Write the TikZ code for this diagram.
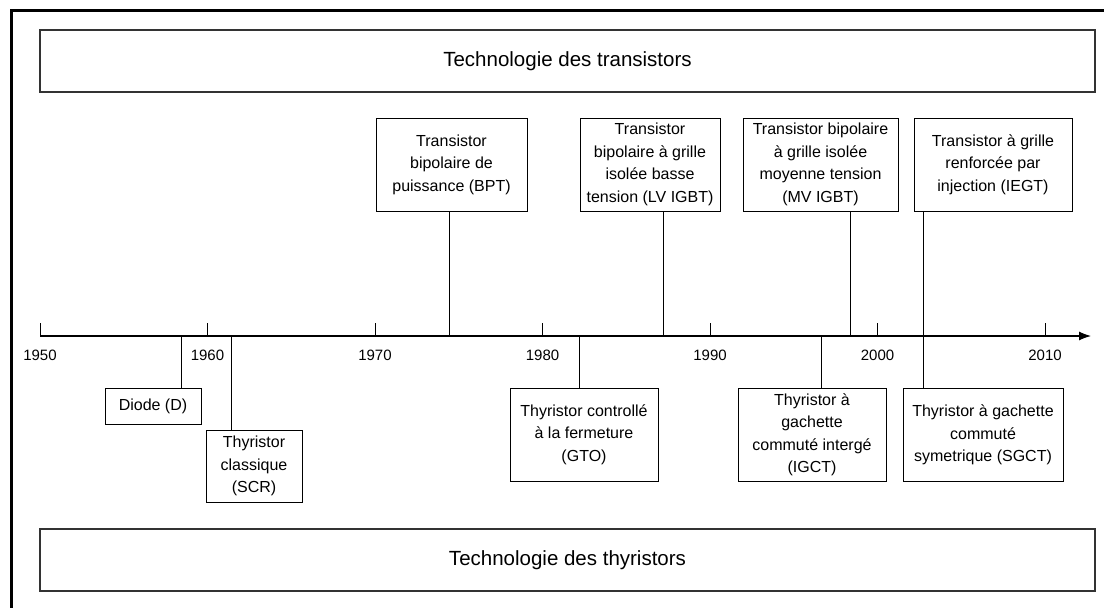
\documentclass[tikz,border=0pt]{standalone}
\usepackage{fontspec}
\setmainfont{Liberation Sans}
\usetikzlibrary{arrows.meta}

\begin{document}
\begin{tikzpicture}[x=1pt, y=-1pt,
    event/.style={draw, line width=0.9pt, align=center, inner sep=0pt, anchor=center,
        font=\fontsize{16}{22.5}\selectfont},
    band/.style={draw=black!80, line width=1.1pt, inner sep=0pt, anchor=center,
        minimum width=1055pt, minimum height=62pt, font=\fontsize{20.5}{24}\selectfont},
    link/.style={line width=0.9pt}
]
    \useasboundingbox (0,0) rectangle (1104,608);
    \draw[line width=3pt] (11,608) -- (11,10) -- (1104,10);

    \node[band] (transistor band) at (567.5,61) {Technologie des transistors};
    \node[band] (thyristor band) at (567.5,560) {Technologie des thyristors};

    % time axis
    \coordinate (axis start) at (40,336);
    \coordinate (axis end) at (1091,336);
    \draw[line width=1.1pt, -{Latex[length=12pt,width=9pt]}] (axis start) -- (axis end);
    \foreach \year [evaluate=\year as \xpos using {40+(\year-1950)*16.75}] in {1950,1960,...,2010} {
        \draw[line width=0.9pt] (\xpos,336) -- (\xpos,323);
        \node[font=\fontsize{15}{18}\selectfont] (year \year) at (\xpos,355) {\year};
    }

    % transistors
    \node[event, minimum width=151pt, minimum height=93pt] (BPT) at (451.5,164.5)
        {Transistor\\bipolaire de\\puissance (BPT)};
    \node[event, minimum width=140pt, minimum height=93pt] (LVIGBT) at (650,164.5)
        {Transistor\\bipolaire à grille\\isolée basse\\tension (LV IGBT)};
    \node[event, minimum width=155pt, minimum height=93pt] (MVIGBT) at (820.5,164.5)
        {Transistor bipolaire\\à grille isolée\\moyenne tension\\(MV IGBT)};
    \node[event, minimum width=158pt, minimum height=93pt] (IEGT) at (993,164.5)
        {Transistor à grille\\renforcée par\\injection (IEGT)};

    % thyristors
    \node[event, minimum width=96pt, minimum height=36pt] (D) at (153,406)
        {Diode (D)};
    \node[event, minimum width=96pt, minimum height=72pt] (SCR) at (254,466)
        {Thyristor\\classique\\(SCR)};
    \node[event, minimum width=148pt, minimum height=93pt] (GTO) at (584,434.5)
        {Thyristor controllé\\à la fermeture\\(GTO)};
    \node[event, minimum width=148pt, minimum height=93pt] (IGCT) at (812,435)
        {Thyristor à\\gachette\\commuté intergé\\(IGCT)};
    \node[event, minimum width=160pt, minimum height=93pt] (SGCT) at (983,435)
        {Thyristor à gachette\\commuté\\symetrique (SGCT)};

    \foreach \event/\xpos in {BPT/449, LVIGBT/663, MVIGBT/850, IEGT/923,
                              D/181, SCR/231, GTO/579, IGCT/821, SGCT/923}
        \coordinate (date \event) at (\xpos,336);

    \foreach \event in {BPT, LVIGBT, MVIGBT, IEGT}
        \draw[link] (date \event) -- (date \event |- \event.south);
    \foreach \event in {D, SCR, GTO, IGCT, SGCT}
        \draw[link] (date \event) -- (date \event |- \event.north);
\end{tikzpicture}
\end{document}
